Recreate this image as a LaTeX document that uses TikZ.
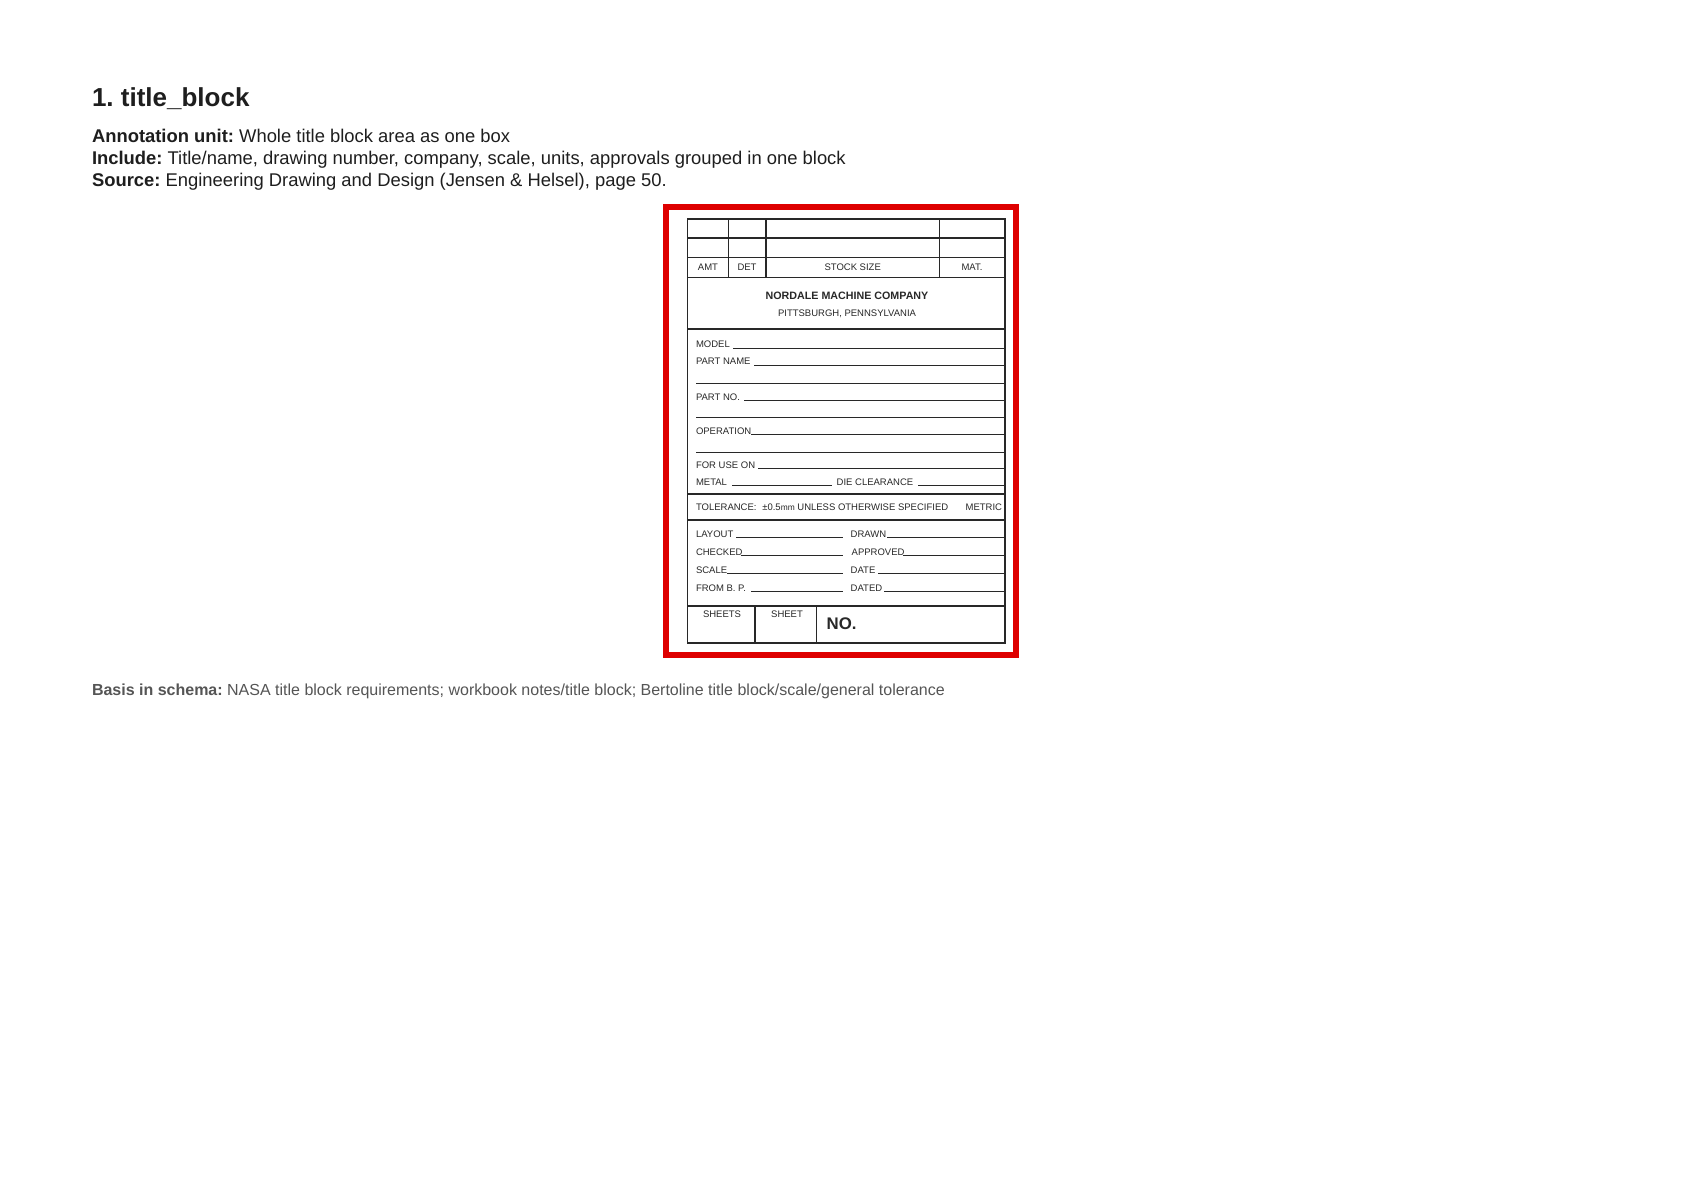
\documentclass[tikz,border=0pt]{standalone}
\usepackage{fontspec}
\setmainfont{Liberation Sans}
\frenchspacing
\definecolor{redbox}{RGB}{222,0,0}
\definecolor{ink}{RGB}{30,30,30}
\definecolor{graytxt}{RGB}{85,85,85}
\definecolor{scan}{RGB}{40,40,40}
\begin{document}
\begin{tikzpicture}[x=0.5pt,y=-0.5pt,
  txt/.style={inner sep=0pt, outer sep=0pt, anchor=base west, text=ink},
  lbl/.style={inner sep=0pt, outer sep=0pt, anchor=base west, text=scan, font=\fontsize{4.75}{5}\selectfont},
  clbl/.style={lbl, anchor=base},
  rule/.style={draw=scan, line width=0.7pt},
  uline/.style={draw=scan, line width=0.45pt},
  frame/.style={draw=redbox, line width=3pt},
]
\useasboundingbox (0,0) rectangle (1684,1191);
\fill[white] (0,0) rectangle (1684,1191);

% header texts
\node[txt, font=\fontsize{13}{16}\selectfont\bfseries] (head) at (92,106) {1. title\_block};
\node[txt, font=\fontsize{9.2}{11}\selectfont] (unit) at (92,142) {\textbf{Annotation unit:} Whole title block area as one box};
\node[txt, font=\fontsize{9.2}{11}\selectfont] (incl) at (92,164) {\textbf{Include:} Title/name, drawing number, company, scale, units, approvals grouped in one block};
\node[txt, font=\fontsize{9.2}{11}\selectfont] (src) at (92,186) {\textbf{Source:} Engineering Drawing and Design (Jensen \& Helsel), page 50.};
\node[txt, text=graytxt, font=\fontsize{8}{10}\selectfont] (basis) at (92,695) {\textbf{Basis in schema:} NASA title block requirements; workbook notes/title block; Bertoline title block/scale/general tolerance};

% title block structure
\draw[rule] (687.7,219) rectangle (1005,643);
\foreach \yy in {238,257.3,277.3,329,494,520,606}
  \draw[rule] (687.7,\yy) -- (1005,\yy);
\foreach \xx in {728.3,766,939.3}
  \draw[rule] (\xx,219) -- (\xx,277.3);
\foreach \xx in {755,816.7}
  \draw[rule] (\xx,606) -- (\xx,643);

% fill-in lines
\draw[uline] (733,348) -- (1005,348);
\draw[uline] (754,365) -- (1005,365);
\draw[uline] (696,383) -- (1005,383);
\draw[uline] (744,400.3) -- (1005,400.3);
\draw[uline] (696,417.5) -- (1005,417.5);
\draw[uline] (751,434.3) -- (1005,434.3);
\draw[uline] (696,452) -- (1005,452);
\draw[uline] (758,468.3) -- (1005,468.3);
\draw[uline] (732,485.6) -- (832,485.6);
\draw[uline] (918,485.6) -- (1005,485.6);
\draw[uline] (736,537.6) -- (843,537.6);
\draw[uline] (887,537.6) -- (1005,537.6);
\draw[uline] (741,555.3) -- (843,555.3);
\draw[uline] (903,555.3) -- (1005,555.3);
\draw[uline] (727,573.3) -- (843,573.3);
\draw[uline] (878,573.3) -- (1005,573.3);
\draw[uline] (751,591.3) -- (843,591.3);
\draw[uline] (884,591.3) -- (1005,591.3);

% title block texts
\node[clbl] (amt) at (708,270) {AMT};
\node[clbl] (det) at (747,270) {DET};
\node[clbl] (stock) at (852.7,270) {STOCK SIZE};
\node[clbl] (mat) at (972,270) {MAT.};
\node[clbl, font=\fontsize{5.35}{6}\selectfont\bfseries] (comp) at (847,299) {NORDALE MACHINE COMPANY};
\node[clbl] (city) at (847,316.7) {PITTSBURGH, PENNSYLVANIA};
\node[lbl] (model) at (696,347.7) {MODEL};
\node[lbl] (pname) at (696,364.7) {PART NAME};
\node[lbl] (pno) at (696,400) {PART NO.};
\node[lbl] (oper) at (696,434) {OPERATION};
\node[lbl] (foruse) at (696,468) {FOR USE ON};
\node[lbl] (metal) at (696,485.3) {METAL};
\node[lbl] (die) at (836.7,485.3) {DIE CLEARANCE};
\node[lbl] (tol) at (696,510.7) {TOLERANCE:\,\, ±0.5{\fontsize{4.2}{5}\selectfont mm} UNLESS OTHERWISE SPECIFIED};
\node[lbl, anchor=base east] (metric) at (1002,510.7) {METRIC};
\node[lbl] (layout) at (696,537.3) {LAYOUT};
\node[lbl] (drawn) at (850.7,537.3) {DRAWN};
\node[lbl] (checked) at (696,555) {CHECKED};
\node[lbl] (approved) at (851.7,555) {APPROVED};
\node[lbl] (scale) at (696,573) {SCALE};
\node[lbl] (date) at (850.7,573) {DATE};
\node[lbl] (fromb) at (696,591) {FROM B. P.};
\node[lbl] (dated) at (850.7,591) {DATED};
\node[clbl] (sheets) at (722,617.3) {SHEETS};
\node[clbl] (sheet) at (787,617.3) {SHEET};
\node[lbl, font=\fontsize{8.4}{9}\selectfont\bfseries] (no) at (826.7,629) {NO.};

% red annotation frame
\draw[frame] (666.3,207) rectangle (1016.3,655);
\end{tikzpicture}
\end{document}
